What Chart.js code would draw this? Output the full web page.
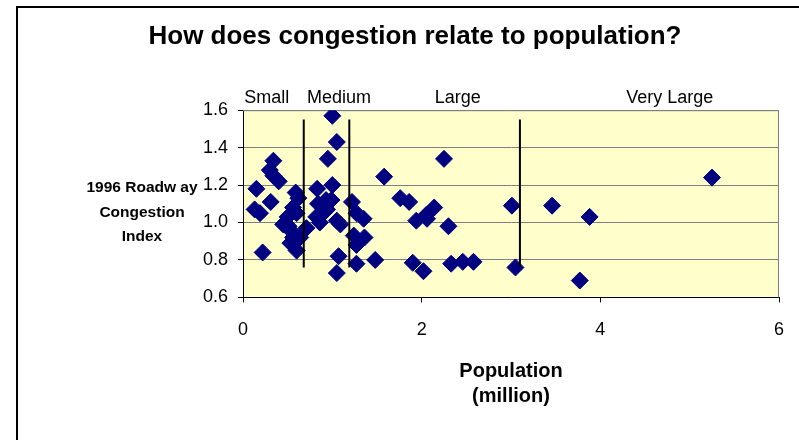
<!DOCTYPE html>
<html>
<head>
<meta charset="utf-8">
<script src="https://cdn.jsdelivr.net/npm/chart.js@4/dist/chart.umd.min.js"></script>
<style>
  html, body { margin: 0; padding: 0; background: #fff; }
  #wrap { width: 799px; height: 440px; }
</style>
</head>
<body>
<div id="wrap"><canvas id="chart" width="799" height="440"></canvas></div>
<script>
// population (million) and 1996 roadway congestion index, one entry per city
const population = [1.00, 1.05, 0.95, 0.34, 0.30, 0.34, 0.40, 1.58, 0.15, 0.31,
                    0.13, 0.19, 0.22, 0.59, 0.56, 0.62, 0.45, 0.51, 0.53, 0.60,
                    0.64, 0.71, 0.83, 0.84, 0.86, 1.00, 0.99, 0.94, 1.05, 1.09,
                    1.07, 1.05, 1.22, 1.27, 1.35, 1.24, 1.27, 1.36, 1.27, 1.48,
                    1.76, 1.86, 1.94, 2.05, 1.90, 2.02, 2.25, 2.14, 2.06, 2.30,
                    2.33, 2.46, 2.58, 3.01, 3.05, 3.46, 3.88, 3.77, 5.25,
                    0.47, 0.56, 0.82, 0.60, 0.55, 0.93, 0.50, 0.90];
const congestion = [1.57, 1.43, 1.34, 1.33, 1.28, 1.25, 1.22, 1.245, 1.18, 1.11,
                    1.07, 1.05, 0.84, 1.16, 1.08, 1.13, 0.99, 0.98, 0.89, 0.85,
                    0.92, 0.97, 1.18, 1.10, 1.00, 1.20, 1.12, 1.07, 1.01, 0.99,
                    0.82, 0.73, 1.11, 1.05, 1.02, 0.93, 0.88, 0.92, 0.78, 0.80,
                    1.13, 1.11, 1.01, 1.04, 0.785, 0.74, 1.34, 1.08, 1.02, 0.98,
                    0.78, 0.79, 0.79, 1.09, 0.76, 1.09, 1.03, 0.69, 1.24,
                    1.00, 0.92, 1.03, 1.05, 0.95, 1.12, 1.03, 1.05];

const xTicks = [0, 2, 4, 6];
const yTicks = [0.6, 0.8, 1.0, 1.2, 1.4, 1.6];

// size classes written above the plot, and the lines between them
const sizeNames = ["Small", "Medium", "Large", "Very Large"];
const sizeNameX = [0.265, 1.074, 2.405, 4.776];
const dividerX = [0.68, 1.19, 3.10];
const dividerY = [0.76, 1.55];

const yTitle = ["1996 Roadw ay", "Congestion", "Index"];
const FONT = "'Liberation Sans', Arial, sans-serif";

const points = population.map((p, i) => ({ x: p, y: congestion[i] }));

const dividerSets = dividerX.map(x => ({
  type: "line",
  data: dividerY.map(y => ({ x: x, y: y })),
  borderColor: "#000",
  borderWidth: 2,
  pointRadius: 0,
  order: 0
}));

const frame = {
  id: "frame",
  beforeDraw(chart) {
    const ctx = chart.ctx;
    const a = chart.chartArea;
    ctx.save();
    ctx.fillStyle = "#fff";
    ctx.fillRect(0, 0, chart.width, chart.height);
    // outer chart border (runs off the right and bottom edges)
    ctx.fillStyle = "#000";
    ctx.fillRect(16, 6, chart.width, 2);
    ctx.fillRect(16, 6, 2, chart.height);
    // plot area
    ctx.fillStyle = "#ffffcc";
    ctx.fillRect(a.left, a.top, a.right - a.left, a.bottom - a.top);
    ctx.restore();
  },
  beforeDatasetsDraw(chart) {
    const ctx = chart.ctx;
    const a = chart.chartArea;
    ctx.save();
    ctx.strokeStyle = "#808080";
    ctx.lineWidth = 1;
    ctx.beginPath();
    ctx.moveTo(a.left, a.top + 0.5);
    ctx.lineTo(a.right - 0.5, a.top + 0.5);
    ctx.lineTo(a.right - 0.5, a.bottom);
    ctx.stroke();
    ctx.restore();
  },
  afterDraw(chart) {
    const ctx = chart.ctx;
    const xs = chart.scales.x;
    ctx.save();
    ctx.fillStyle = "#000";
    ctx.textAlign = "center";
    ctx.textBaseline = "alphabetic";
    ctx.font = "18px " + FONT;
    sizeNames.forEach((n, i) => {
      ctx.fillText(n, xs.getPixelForValue(sizeNameX[i]), 103);
    });
    ctx.font = "bold 15.5px " + FONT;
    ctx.textBaseline = "middle";
    yTitle.forEach((t, i) => {
      ctx.fillText(t, 142, 188 + i * 24.5);
    });
    ctx.restore();
  }
};

new Chart(document.getElementById("chart"), {
  type: "scatter",
  data: {
    datasets: [
      ...dividerSets,
      {
        label: "Cities",
        data: points,
        pointStyle: "rectRot",
        pointRadius: 8.5,
        pointHoverRadius: 8.5,
        backgroundColor: "#000080",
        borderColor: "#000080",
        borderWidth: 1,
        order: 1
      }
    ]
  },
  options: {
    responsive: false,
    animation: false,
    devicePixelRatio: 1,
    layout: { padding: { left: 51, right: 20, top: 0, bottom: 31 } },
    plugins: {
      legend: { display: false },
      tooltip: { enabled: false },
      title: {
        display: true,
        text: "How does congestion relate to population?",
        color: "#000",
        font: { family: FONT, size: 26, weight: "bold" },
        padding: { top: 21, bottom: 58 }
      }
    },
    scales: {
      x: {
        type: "linear",
        min: 0,
        max: 6,
        afterBuildTicks: s => { s.ticks = xTicks.map(v => ({ value: v })); },
        afterFit: s => { s.paddingRight = 0; s.paddingLeft = 0; },
        ticks: { color: "#000", font: { family: FONT, size: 18 }, padding: 17 },
        grid: { drawOnChartArea: false, tickLength: 5, color: "#000" },
        border: { color: "#000", width: 1 },
        title: {
          display: true,
          text: ["Population", "(million)"],
          color: "#000",
          font: { family: FONT, size: 20, weight: "bold", lineHeight: 1.25 },
          padding: { top: 1, bottom: 0 }
        }
      },
      y: {
        min: 0.6,
        max: 1.6,
        afterBuildTicks: s => { s.ticks = yTicks.map(v => ({ value: v })); },
        afterFit: s => { s.width = 192; },
        ticks: {
          color: "#000",
          font: { family: FONT, size: 18 },
          padding: 10,
          callback: v => v.toFixed(1)
        },
        grid: { color: "#808080", tickColor: "#000", tickLength: 5 },
        border: { color: "#000", width: 1 }
      }
    }
  },
  plugins: [frame]
});
</script>
</body>
</html>
